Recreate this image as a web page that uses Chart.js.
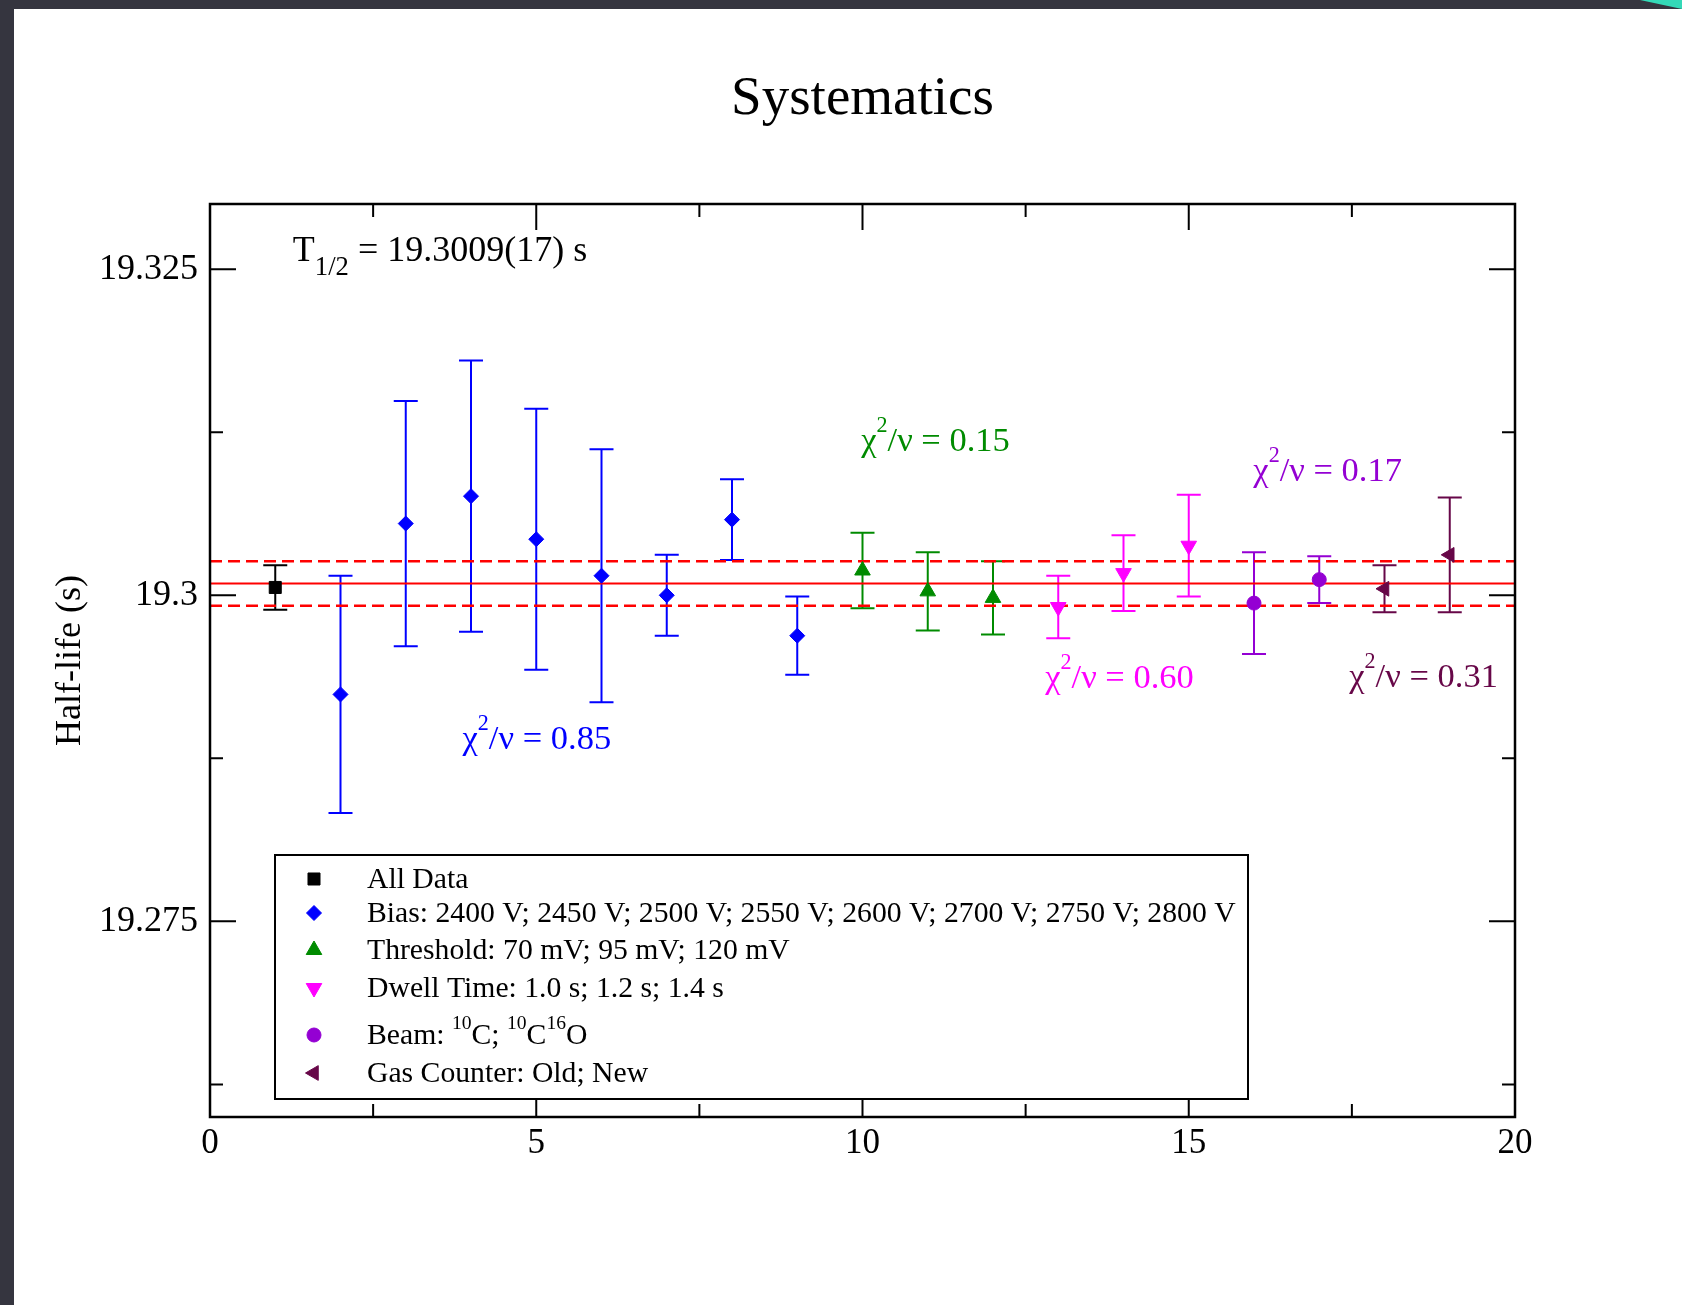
<!DOCTYPE html>
<html>
<head>
<meta charset="utf-8">
<title>Systematics</title>
<script src="https://cdn.jsdelivr.net/npm/chart.js@4.4.1/dist/chart.umd.min.js"></script>
<style>
  html, body { margin: 0; padding: 0; }
  body { width: 1682px; height: 1305px; background: #35353f; position: relative; overflow: hidden; }
  #sheet { position: absolute; left: 14px; top: 9px; right: 0; bottom: 0; background: #fff; }
  #corner { position: absolute; top: 0; right: 0; width: 0; height: 0;
            border-top: 9px solid #34d9b8; border-left: 42px solid transparent; }
  #c { position: absolute; left: 0; top: 0; }
</style>
</head>
<body>
<div id="sheet"></div>
<div id="corner"></div>
<canvas id="c" width="1682" height="1305"></canvas>
<script>
// half-life results per run group (value, 1-sigma error)
const allX = [1];
const allY = [19.3006];
const allErr = [0.0017];

const biasX = [2, 3, 4, 5, 6, 7, 8, 9];
const biasY = [19.2924, 19.3055, 19.3076, 19.3043, 19.3015, 19.3000, 19.3058, 19.2969];
const biasErr = [0.0091, 0.0094, 0.0104, 0.0100, 0.0097, 0.0031, 0.0031, 0.0030];

const threshX = [10, 11, 12];
const threshY = [19.3019, 19.3003, 19.2998];
const threshErr = [0.0029, 0.0030, 0.0028];

const dwellX = [13, 14, 15];
const dwellY = [19.2991, 19.3017, 19.3038];
const dwellErr = [0.0024, 0.0029, 0.0039];

const beamX = [16, 17];
const beamY = [19.2994, 19.3012];
const beamErr = [0.0039, 0.0018];

const gasX = [18, 19];
const gasY = [19.3005, 19.3031];
const gasErr = [0.0018, 0.0044];

// weighted mean of all data
const mean = 19.3009;
const meanErr = 0.0017;

const seriesLabels = [
  "All Data",
  "Bias: 2400 V; 2450 V; 2500 V; 2550 V; 2600 V; 2700 V; 2750 V; 2800 V",
  "Threshold: 70 mV; 95 mV; 120 mV",
  "Dwell Time: 1.0 s; 1.2 s; 1.4 s",
  "Beam: ^{10}C; ^{10}C^{16}O",
  "Gas Counter: Old; New"
];
const chiValues = ["0.85", "0.15", "0.60", "0.17", "0.31"];

const xTicks = [0, 5, 10, 15, 20];
const xMinor = [2.5, 7.5, 12.5, 17.5];
const yTicks = [19.275, 19.3, 19.325];
const yTickLabels = ["19.275", "19.3", "19.325"];
const yMinor = [19.2625, 19.2875, 19.3125];

const FONT = '"Liberation Serif", "Times New Roman", serif';

function pts(xs, ys) {
  return xs.map((x, i) => ({ x: x, y: ys[i] }));
}

function group(label, xs, ys, errs, color, style, radius, rotation) {
  return {
    type: "scatter",
    label: label,
    data: pts(xs, ys),
    errors: errs,
    backgroundColor: color,
    borderColor: color,
    pointStyle: style,
    pointRadius: radius,
    pointRotation: rotation || 0,
    pointBorderWidth: 1,
    order: 0
  };
}

function hline(y, dash, width) {
  return {
    type: "line",
    data: [{ x: 0, y: y }, { x: 20, y: y }],
    borderColor: "#ff0000",
    borderWidth: width,
    borderDash: dash,
    pointRadius: 0,
    fill: false,
    order: 1
  };
}

// split "a^{b}c_{d}" into parts
function parseRich(s) {
  return s.split(/(\^\{[^}]*\}|_\{[^}]*\})/).filter(p => p).map(p => {
    if (p.startsWith("^{")) return [p.slice(2, -1), "^"];
    if (p.startsWith("_{")) return [p.slice(2, -1), "_"];
    return [p, ""];
  });
}

function drawRich(ctx, s, x, y, size, opt) {
  opt = opt || {};
  const small = opt.small || 0.68;
  let cx = x;
  for (const [t, k] of parseRich(s)) {
    const fs = k ? size * small : size;
    ctx.font = fs + "px " + FONT;
    let dy = 0;
    if (k === "^") dy = -size * (opt.up || 0.48);
    if (k === "_") dy = size * (opt.down || 0.38);
    ctx.fillText(t, cx, y + dy);
    cx += ctx.measureText(t).width;
  }
}

const errorBars = {
  id: "errorBars",
  beforeDatasetsDraw(chart) {
    const { ctx, scales: { x, y } } = chart;
    ctx.save();
    chart.data.datasets.forEach(ds => {
      if (!ds.errors) return;
      ctx.strokeStyle = ds.borderColor;
      ctx.lineWidth = 2;
      ds.data.forEach((p, i) => {
        const px = x.getPixelForValue(p.x);
        const top = y.getPixelForValue(p.y + ds.errors[i]);
        const bot = y.getPixelForValue(p.y - ds.errors[i]);
        ctx.beginPath();
        ctx.moveTo(px, top); ctx.lineTo(px, bot);
        ctx.moveTo(px - 12, top); ctx.lineTo(px + 12, top);
        ctx.moveTo(px - 12, bot); ctx.lineTo(px + 12, bot);
        ctx.stroke();
      });
    });
    ctx.restore();
  }
};

const frame = {
  id: "frame",
  afterDatasetsDraw(chart) {
    const { ctx, chartArea: a, scales: { x, y } } = chart;
    ctx.save();
    ctx.strokeStyle = "#000";
    ctx.lineWidth = 2;
    ctx.beginPath();
    const tick = (vals, len) => {
      vals.forEach(v => {
        const px = x.getPixelForValue(v);
        ctx.moveTo(px, a.bottom); ctx.lineTo(px, a.bottom - len);
        ctx.moveTo(px, a.top); ctx.lineTo(px, a.top + len);
      });
    };
    const ytick = (vals, len) => {
      vals.forEach(v => {
        const py = y.getPixelForValue(v);
        ctx.moveTo(a.left, py); ctx.lineTo(a.left + len, py);
        ctx.moveTo(a.right, py); ctx.lineTo(a.right - len, py);
      });
    };
    tick(xTicks, 26); tick(xMinor, 13);
    ytick(yTicks, 26); ytick(yMinor, 13);
    ctx.stroke();
    ctx.lineWidth = 2.5;
    ctx.strokeRect(a.left, a.top, a.right - a.left, a.bottom - a.top);
    ctx.restore();
  }
};

const annotations = {
  id: "annotations",
  afterDraw(chart) {
    const { ctx, chartArea: a, scales: { x, y } } = chart;
    ctx.save();
    ctx.textBaseline = "alphabetic";
    ctx.fillStyle = "#000";

    // title
    ctx.textAlign = "center";
    ctx.font = "55px " + FONT;
    ctx.fillText("Systematics", (a.left + a.right) / 2, 114);

    // y axis title
    ctx.save();
    ctx.translate(80, (a.top + a.bottom) / 2);
    ctx.rotate(-Math.PI / 2);
    ctx.font = "36px " + FONT;
    ctx.fillText("Half-life (s)", 0, 0);
    ctx.restore();

    ctx.textAlign = "left";
    drawRich(ctx, "T_{1/2} = " + mean.toFixed(4) + "(" + Math.round(meanErr * 1e4) + ") s",
      x.getPixelForValue(1.27), y.getPixelForValue(19.3256), 36, { small: 0.74, down: 0.39 });

    // reduced chi-square per group
    const chiPos = [[3.87, 19.2882], [9.98, 19.3111], [12.80, 19.2929], [15.99, 19.3088], [17.46, 19.2930]];
    const groups = chart.data.datasets.filter(d => d.errors).slice(1);
    chiPos.forEach((p, i) => {
      ctx.fillStyle = groups[i].borderColor;
      drawRich(ctx, "\u03C7^{2}/\u03BD = " + chiValues[i],
        x.getPixelForValue(p[0]), y.getPixelForValue(p[1]), 34.5, { small: 0.64, up: 0.55 });
    });

    // legend box
    const lx = 275, ly = 855, lw = 973, lh = 244;
    ctx.fillStyle = "#fff";
    ctx.fillRect(lx, ly, lw, lh);
    ctx.strokeStyle = "#000";
    ctx.lineWidth = 2;
    ctx.strokeRect(lx, ly, lw, lh);
    const baselines = [888, 922, 959, 997, 1044, 1082];
    const sets = chart.data.datasets.filter(d => d.errors);
    sets.forEach((ds, i) => {
      ctx.fillStyle = ds.borderColor;
      ctx.strokeStyle = ds.borderColor;
      ctx.lineWidth = 1;
      Chart.helpers.drawPoint(ctx, {
        pointStyle: ds.pointStyle,
        rotation: ds.pointRotation,
        radius: ds.pointRadius,
        borderWidth: 1
      }, 314, baselines[i] - 9);
      ctx.fillStyle = "#000";
      drawRich(ctx, seriesLabels[i], 367, baselines[i], 29.7, { small: 0.66, up: 0.5 });
    });
    ctx.restore();
  }
};

new Chart(document.getElementById("c"), {
  data: {
    datasets: [
      group(seriesLabels[0], allX, allY, allErr, "#000000", "rect", 8.5),
      group(seriesLabels[1], biasX, biasY, biasErr, "#0000ff", "rectRot", 7.5),
      group(seriesLabels[2], threshX, threshY, threshErr, "#008b00", "triangle", 9),
      group(seriesLabels[3], dwellX, dwellY, dwellErr, "#ff00ff", "triangle", 9, 180),
      group(seriesLabels[4], beamX, beamY, beamErr, "#9400d3", "circle", 7),
      group(seriesLabels[5], gasX, gasY, gasErr, "#670748", "triangle", 8.5, 270),
      hline(mean, [], 2),
      hline(mean + meanErr, [12, 6], 2.5),
      hline(mean - meanErr, [12, 6], 2.5)
    ]
  },
  options: {
    responsive: false,
    animation: false,
    devicePixelRatio: 1,
    layout: { padding: { left: 0, right: 167, top: 204, bottom: 0 } },
    scales: {
      x: {
        type: "linear",
        min: 0,
        max: 20,
        grid: { display: false, drawTicks: false },
        border: { display: false },
        afterBuildTicks(scale) { scale.ticks = xTicks.map(v => ({ value: v })); },
        afterFit(scale) { scale.height = 188; },
        ticks: {
          padding: 6,
          color: "#000",
          font: { family: FONT, size: 35 },
          callback: v => String(v)
        }
      },
      y: {
        type: "linear",
        min: 19.26,
        max: 19.33,
        grid: { display: false, drawTicks: false },
        border: { display: false },
        afterBuildTicks(scale) { scale.ticks = yTicks.map(v => ({ value: v })); },
        afterFit(scale) { scale.width = 210; },
        ticks: {
          padding: 12,
          color: "#000",
          font: { family: FONT, size: 36 },
          callback: (v, i) => yTickLabels[i]
        }
      }
    },
    plugins: {
      legend: { display: false },
      title: { display: false },
      tooltip: { enabled: false }
    }
  },
  plugins: [errorBars, frame, annotations]
});
</script>
</body>
</html>
